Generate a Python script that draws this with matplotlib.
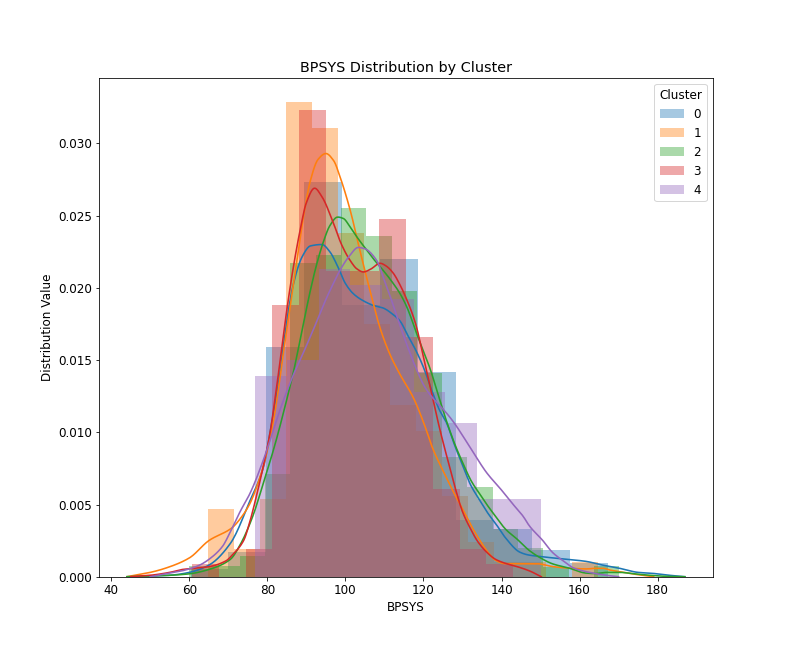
import numpy as np
import matplotlib
matplotlib.use("Agg")
import matplotlib.pyplot as plt

plt.rcParams["font.size"] = 12

clusters = ["0", "1", "2", "3", "4"]
colors = ["#1f77b4", "#ff7f0e", "#2ca02c", "#d62728", "#9467bd"]

# Histogram bins (first edge, bin width) and density heights per cluster
hist_start = [60.3, 64.9, 60.0, 60.75, 76.92]
hist_width = [9.72, 6.65, 6.48, 6.85, 8.12]
hist_c0 = [0.0005, 0.0017, 0.0159, 0.0273, 0.0188, 0.0220, 0.0142, 0.0039, 0.0033, 0.00185, 0.00093]
hist_c1 = [0.0047, 0.0019, 0.0054, 0.0329, 0.0311, 0.0238, 0.0175, 0.0119, 0.0101, 0.0056,
           0.0024, 0.0010, 0.0010, 0.0, 0.0010]
hist_c2 = [0.00075, 0.00075, 0.0014, 0.0071, 0.0217, 0.0223, 0.0255, 0.0236, 0.0198, 0.0141,
           0.0083, 0.0062, 0.0033, 0.0020, 0.0007, 0.0, 0.00072]
hist_c3 = [0.00087, 0.0, 0.0019, 0.0188, 0.0323, 0.0212, 0.0212, 0.0248, 0.0166, 0.0061,
           0.0019, 0.00087]
hist_c4 = [0.0139, 0.0150, 0.0213, 0.0202, 0.0192, 0.0128, 0.01065, 0.00537, 0.00537]
hists = [hist_c0, hist_c1, hist_c2, hist_c3, hist_c4]

# KDE curves
kde_x0 = [44, 50, 55, 60, 65, 70.5, 75.6, 79, 81, 83.3, 84.1, 86.7, 89, 91, 94, 96, 98, 100, 102,
          104.6, 107, 109.7, 112, 114, 116, 118, 120, 122, 124, 126, 128, 130.2, 132, 134.4, 136.5,
          138.7, 141, 144.7, 147, 150, 153.2, 157, 161.7, 166, 170.3, 175, 178.8, 183, 187]
kde_y0 = [0, 0.00005, 0.0001, 0.0003, 0.0008, 0.0023, 0.0053, 0.0076, 0.0105, 0.0142, 0.0160, 0.0203,
          0.0222, 0.0229, 0.0230, 0.0225, 0.0215, 0.0203, 0.0196, 0.0191, 0.0188, 0.0186, 0.0182,
          0.0177, 0.0167, 0.0157, 0.0145, 0.0130, 0.0116, 0.0106, 0.0091, 0.0076, 0.0064, 0.0053,
          0.0044, 0.0036, 0.0027, 0.0017, 0.0015, 0.0014, 0.0013, 0.0012, 0.00106, 0.0008, 0.00058,
          0.0003, 0.00023, 0.0001, 0]
kde_x1 = [44, 50, 54, 60, 65, 71, 73, 75.4, 77.5, 79.6, 82, 84.1, 86.7, 89.3, 91, 93, 95, 97, 98.6,
          101.2, 103.7, 106.3, 108.9, 111.4, 114, 117.4, 120, 122.5, 126, 128, 130.2, 132.3, 134.5,
          136.5, 138.7, 141, 144.7, 149, 153.2, 157, 161.7, 164, 166, 168, 170.3, 174.5, 179]
kde_y1 = [0, 0.0003, 0.0006, 0.0013, 0.0025, 0.0034, 0.0040, 0.0050, 0.0064, 0.0083, 0.0115, 0.0155,
          0.0203, 0.0250, 0.0274, 0.0289, 0.0293, 0.0288, 0.0277, 0.0254, 0.0226, 0.0198, 0.0172,
          0.0154, 0.0140, 0.0124, 0.0107, 0.0088, 0.0068, 0.0057, 0.0046, 0.0035, 0.0025, 0.0017,
          0.0011, 0.0009, 0.0009, 0.0009, 0.0007, 0.0006, 0.00054, 0.00058, 0.00058, 0.00045,
          0.00035, 0.00016, 0]
kde_x2 = [44, 50, 55, 60, 65, 70.5, 73, 76, 79, 82, 85, 86.7, 89, 91, 92.7, 94.5, 96, 98, 99.5, 101,
          103, 105.5, 107.5, 109.7, 112, 114, 115.7, 117, 118.3, 120, 121.7, 124, 126, 128, 130.2,
          132.3, 134.5, 136.5, 138.7, 141, 144, 147.2, 150, 153, 157.5, 161.7, 164, 167, 170.3, 174,
          178, 182, 187]
kde_y2 = [0, 0.00005, 0.0001, 0.0002, 0.0005, 0.0012, 0.0022, 0.0040, 0.0065, 0.0092, 0.0123, 0.0142,
          0.0172, 0.0198, 0.0217, 0.0233, 0.0243, 0.0249, 0.0248, 0.0243, 0.0235, 0.0226, 0.0219,
          0.0212, 0.0204, 0.0196, 0.0187, 0.0178, 0.0168, 0.0156, 0.0144, 0.0124, 0.0107, 0.0092,
          0.0078, 0.0066, 0.0057, 0.0049, 0.0041, 0.0033, 0.0026, 0.0018, 0.0013, 0.0009, 0.00058,
          0.00025, 0.00022, 0.0003, 0.0003, 0.0002, 0.0001, 0.00003, 0]
kde_x3 = [45, 50, 55, 58.2, 62, 65.1, 69.4, 71, 73.9, 75.5, 77.3, 79, 80.7, 82, 83.3, 85, 86.7, 88.4,
          90, 92.1, 94, 96.9, 99, 101.2, 103, 104.6, 106.5, 108.9, 110.5, 112.3, 114, 115.7, 118, 120,
          122, 124.2, 126.5, 128.5, 130, 131.9, 134, 136.2, 138.5, 141.3, 144, 147.2, 150.2]
kde_y3 = [0, 0.0001, 0.0003, 0.0005, 0.0006, 0.0007, 0.0011, 0.0015, 0.0025, 0.0038, 0.0057, 0.0077,
          0.0100, 0.0124, 0.0150, 0.0185, 0.0215, 0.0240, 0.0259, 0.0269, 0.0263, 0.0245, 0.0230,
          0.0219, 0.0213, 0.0211, 0.0213, 0.0217, 0.0215, 0.0210, 0.0202, 0.0192, 0.0175, 0.0152,
          0.0128, 0.0102, 0.0078, 0.0058, 0.0045, 0.0034, 0.0024, 0.0017, 0.0012, 0.0009, 0.0007,
          0.0004, 0]
kde_x4 = [50, 54, 58, 62.6, 65.5, 68.5, 70.5, 73, 75.6, 79, 81, 83.3, 86.7, 88.4, 90.5, 92.7, 95, 96.9,
          99, 101, 103.3, 105, 108, 110, 112, 113.1, 115.7, 118.3, 120, 121.7, 124, 126, 128, 130.2,
          133, 136.2, 140, 143, 145.5, 147.2, 150.6, 153, 155.8, 158.5, 161.7, 166.8, 170]
kde_y4 = [0, 0.0002, 0.0004, 0.0008, 0.0013, 0.0021, 0.0031, 0.0045, 0.0058, 0.0081, 0.0097, 0.0116,
          0.0140, 0.0150, 0.0163, 0.0177, 0.0192, 0.0203, 0.0214, 0.0222, 0.0228, 0.0227, 0.0219,
          0.0205, 0.0190, 0.0181, 0.0161, 0.0143, 0.0133, 0.0126, 0.0119, 0.0113, 0.0106, 0.0097,
          0.0085, 0.0072, 0.0060, 0.0050, 0.0042, 0.0035, 0.0025, 0.0017, 0.0011, 0.0006, 0.00035,
          0.0001, 0]
kde_x = [kde_x0, kde_x1, kde_x2, kde_x3, kde_x4]
kde_y = [kde_y0, kde_y1, kde_y2, kde_y3, kde_y4]


def pchip(x, y, xn):
    """Shape-preserving cubic interpolation through the read points."""
    x = np.asarray(x, float)
    y = np.asarray(y, float)
    h = np.diff(x)
    delta = np.diff(y) / h
    n = len(x)
    d = np.zeros(n)
    for k in range(1, n - 1):
        if delta[k - 1] * delta[k] > 0:
            w1 = 2 * h[k] + h[k - 1]
            w2 = h[k] + 2 * h[k - 1]
            d[k] = (w1 + w2) / (w1 / delta[k - 1] + w2 / delta[k])
    d[0] = delta[0]
    d[-1] = delta[-1]
    idx = np.clip(np.searchsorted(x, xn) - 1, 0, n - 2)
    t = (xn - x[idx]) / h[idx]
    h00 = 2 * t**3 - 3 * t**2 + 1
    h10 = t**3 - 2 * t**2 + t
    h01 = -2 * t**3 + 3 * t**2
    h11 = t**3 - t**2
    return (h00 * y[idx] + h10 * h[idx] * d[idx] + h01 * y[idx + 1]
            + h11 * h[idx] * d[idx + 1])


fig, ax = plt.subplots(figsize=(11, 9), dpi=72)

for i, lab in enumerate(clusters):
    h = np.array(hists[i])
    edges = hist_start[i] + hist_width[i] * np.arange(len(h) + 1)
    ax.hist(edges[:-1] + hist_width[i] / 2, bins=edges, weights=h, color=colors[i],
            alpha=0.4, label=lab)
    xs = np.linspace(kde_x[i][0], kde_x[i][-1], 400)
    ax.plot(xs, np.clip(pchip(kde_x[i], kde_y[i], xs), 0, None), color=colors[i], lw=1.6)

ax.set_xticks([40, 60, 80, 100, 120, 140, 160, 180])
ax.set_title("BPSYS Distribution by Cluster")
ax.set_xlabel("BPSYS")
ax.set_ylabel("Distribution Value")
ax.legend(title="Cluster", loc="upper right")

fig.savefig("out.png", dpi=72)
